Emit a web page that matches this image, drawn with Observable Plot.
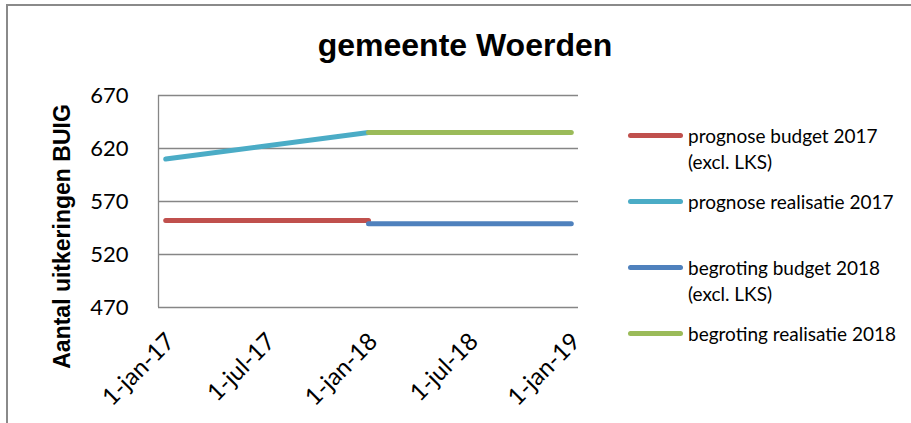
<!DOCTYPE html>
<html><head><meta charset="utf-8">
<script src="https://cdn.jsdelivr.net/npm/d3@7"></script>
<script src="https://cdn.jsdelivr.net/npm/@observablehq/plot@0.6"></script>
<style>
html,body{margin:0;padding:0;background:#fff;}
#chart{position:relative;width:911px;height:423px;overflow:hidden;background:#fff;}
#border{position:absolute;left:6px;top:4px;width:1000px;height:1000px;border-left:2px solid #8a8a8a;border-top:2px solid #8a8a8a;}
#title{position:absolute;left:0;top:30px;width:911px;padding-left:19px;box-sizing:border-box;text-align:center;font-family:"Liberation Sans",Arial,sans-serif;font-weight:bold;font-size:32px;line-height:31px;color:#000;}
#plot{position:absolute;left:0;top:70px;}
.item{position:absolute;left:628px;}
.swatch{position:absolute;left:0;width:55px;height:5px;border-radius:2.5px;}
.label{position:absolute;left:60px;width:226px;font-family:Lato,"Open Sans",sans-serif;font-size:19px;line-height:26.6px;color:#000;}
</style>
</head><body>
<div id="chart">
  <div id="border"></div>
  <div id="title"></div>
  <div id="plot"></div>
</div>
<script>
// ---- data ----
const chartTitle = "gemeente Woerden";
const yAxisTitle = "Aantal uitkeringen BUIG";
const seriesNames = ["prognose budget 2017 (excl. LKS)", "prognose realisatie 2017", "begroting budget 2018 (excl. LKS)", "begroting realisatie 2018"];
const seriesColors = ["#C0504D", "#4BACC6", "#4F81BD", "#9BBB59"];
const dates2017 = ["2017-01-01", "2018-01-01"];
const dates2018 = ["2018-01-01", "2019-01-01"];
const prognoseBudget2017 = [552, 552];
const prognoseRealisatie2017 = [610, 635];
const begrotingBudget2018 = [549, 549];
const begrotingRealisatie2018 = [635, 635];
const yTicks = [470, 520, 570, 620, 670];
const xTickDates = ["2017-01-01", "2017-07-01", "2018-01-01", "2018-07-01", "2019-01-01"];
const xTickLabels = ["1-jan-17", "1-jul-17", "1-jan-18", "1-jul-18", "1-jan-19"];
const xDomain = ["2016-12-19", "2019-01-14"];

// ---- build ----
document.getElementById("title").textContent = chartTitle;
const parse = s => new Date(s + "T00:00:00Z");
const seriesData = [
  [dates2017, prognoseBudget2017],
  [dates2017, prognoseRealisatie2017],
  [dates2018, begrotingBudget2018],
  [dates2018, begrotingRealisatie2018]
];
const rows = [];
seriesData.forEach(([ds, vs], k) => ds.forEach((d, i) => rows.push({series: seriesNames[k], date: parse(d), value: vs[i]})));
const labelMap = new Map(xTickDates.map((d, i) => [+parse(d), xTickLabels[i]]));
const grid = "#868686";

const plot = Plot.plot({
  width: 911,
  height: 353,
  marginLeft: 158,
  marginRight: 333,
  marginTop: 25,
  marginBottom: 116,
  style: {fontFamily: "Lato, 'Open Sans', sans-serif", color: "#000", background: "transparent", overflow: "visible"},
  x: {type: "utc", domain: xDomain.map(parse)},
  y: {domain: [470, 670]},
  color: {domain: seriesNames, range: seriesColors},
  marks: [
    Plot.ruleY(yTicks, {stroke: grid, strokeWidth: 1.3}),
    Plot.ruleX([parse(xDomain[0])], {y1: 470, y2: 670, stroke: grid, strokeWidth: 1.3}),
    Plot.axisY(yTicks, {tickSize: 0, tickPadding: 30, fontSize: 22, label: null}),
    Plot.axisX(xTickDates.map(parse), {tickSize: 0, tickPadding: 30, tickRotate: -45, fontSize: 24, dx: 5, label: null, tickFormat: d => labelMap.get(+d)}),
    Plot.line(rows, {x: "date", y: "value", z: "series", stroke: "series", strokeWidth: 5, strokeLinecap: "round", strokeLinejoin: "round"}),
    Plot.text([yAxisTitle], {frameAnchor: "left", textAnchor: "middle", rotate: -90, dx: -96, dy: 35, fontSize: 23, fontWeight: "bold", fontFamily: "'Liberation Sans', Arial, sans-serif", fill: "#000"})
  ]
});
document.getElementById("plot").appendChild(plot);

// legend
const chart = document.getElementById("chart");
seriesNames.forEach((name, i) => {
  const cy = 136 + 66 * i;
  const item = document.createElement("div");
  item.className = "item";
  item.style.top = (cy - 13.3) + "px";
  const sw = document.createElement("div");
  sw.className = "swatch";
  sw.style.top = (13.3 - 2.5) + "px";
  sw.style.background = seriesColors[i];
  const lb = document.createElement("div");
  lb.className = "label";
  lb.textContent = name;
  item.appendChild(sw);
  item.appendChild(lb);
  chart.appendChild(item);
});
</script>
</body></html>
